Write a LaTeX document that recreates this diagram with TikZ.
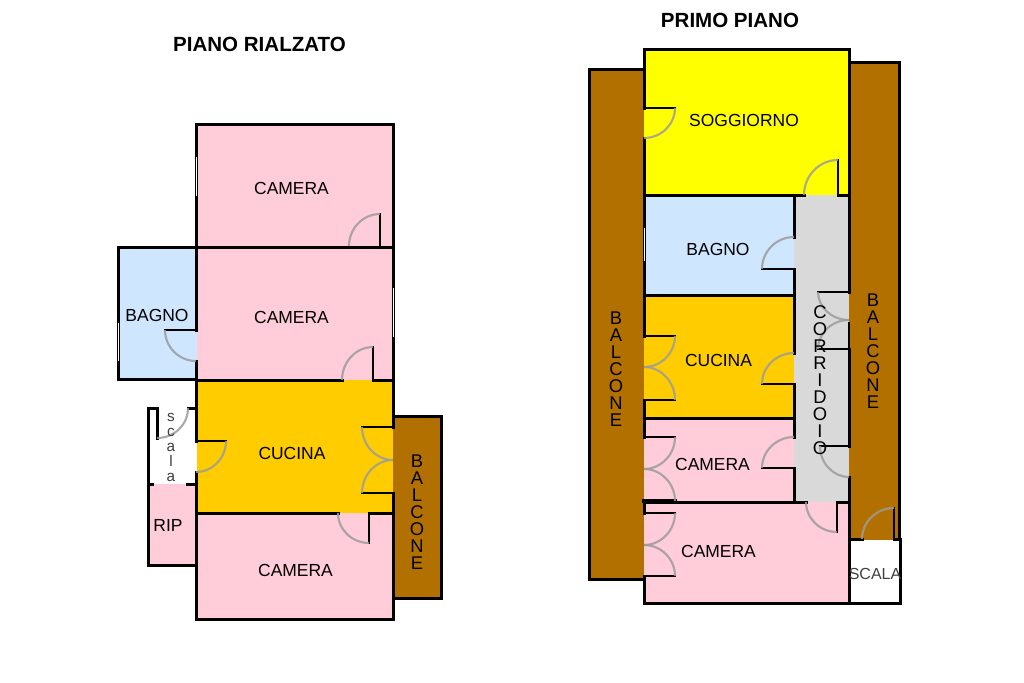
\documentclass[tikz,border=0pt]{standalone}
\usepackage{fontspec}
\setmainfont{Liberation Sans}
\usetikzlibrary{calc}
\definecolor{pinkroom}{HTML}{FFCCD9}
\definecolor{blueroom}{HTML}{CFE6FF}
\definecolor{orangeroom}{HTML}{FFCC00}
\definecolor{yellowroom}{HTML}{FFFF00}
\definecolor{brownroom}{HTML}{B27000}
\definecolor{greyroom}{HTML}{D9D9D9}
\definecolor{doorgrey}{HTML}{9C9C9C}
\newcommand\door[3]{%
  \draw[wall,line width=1.5pt] (#1) -- (#2);
  \draw[doorarc] (#2) .. controls ($(#2)+0.55*(#3)-0.55*(#1)$) and ($(#3)+0.55*(#2)-0.55*(#1)$) .. (#3);}
\tikzset{
  wall/.style={draw=black,line width=2.25pt,line cap=rect},
  thinwall/.style={draw=black,line width=1.2pt},
  doorarc/.style={draw=doorgrey,draw opacity=0.85,line width=1.6pt},
  windowmark/.style={draw=white,line width=0.6pt},
  label/.style={inner sep=0pt,font=\fontsize{13.1pt}{16pt}\selectfont},
  title/.style={inner sep=0pt,font=\fontsize{15.4pt}{18pt}\selectfont\bfseries},
  stack/.style={inner sep=0pt,align=center,font=\fontsize{13.8pt}{12.75pt}\selectfont},
  smallstack/.style={inner sep=0pt,align=center,font=\fontsize{11.5pt}{11.25pt}\selectfont,text=black!75},
}
\begin{document}
\begin{tikzpicture}[x=0.75pt,y=-0.75pt]
\useasboundingbox (0,0) rectangle (1024,682);
\fill[white] (0,0) rectangle (1024,682);
% ---- room fills, left plan
\fill[pinkroom] (196,124) rectangle (393,247);
\fill[pinkroom] (196,247) rectangle (393,380);
\fill[blueroom] (118,247) rectangle (197,379);
\fill[orangeroom] (197,380) rectangle (393,513);
\fill[pinkroom] (196,513) rectangle (393,619);
\fill[pinkroom] (148,484) rectangle (196,565);
\fill[brownroom] (393,416) rectangle (441,598);
% ---- room fills, right plan
\fill[brownroom] (589,69) rectangle (644,579);
\fill[brownroom] (849,62) rectangle (899,540);
\fill[yellowroom] (644,49) rectangle (849,195);
\fill[blueroom] (644,195) rectangle (794,295);
\fill[orangeroom] (644,295) rectangle (794,418);
\fill[pinkroom] (644,418) rectangle (794,502);
\fill[greyroom] (794,195) rectangle (849,502);
\fill[pinkroom] (644,502) rectangle (849,603);
% ---- walls, left plan
\draw[wall] (196,247) -- (196,124) -- (393,124) -- (393,427);
\draw[wall] (393,493) -- (393,619) -- (196,619) -- (196,472);
\draw[wall] (196,441) -- (196,361);
\draw[wall] (196,330) -- (196,247);
\draw[wall] (118,247) -- (393,247);
\draw[wall] (118,247) -- (118,379) -- (196,379);
\draw[wall] (196,380) -- (342,380);
\draw[wall] (373,380) -- (393,380);
\draw[wall] (196,513) -- (338,513);
\draw[wall] (369,513) -- (393,513);
\draw[wall] (393,416) -- (441,416) -- (441,598) -- (393,598);
\draw[wall] (157,438) -- (157,408) -- (148,408) -- (148,565) -- (196,565);
\draw[wall] (188,408) -- (196,408);
\draw[wall] (148,484) -- (152,484);
\draw[wall] (187,484) -- (196,484);
% ---- doors, left plan
\door{380,246}{380,214}{349,246}
\door{373,380}{373,347}{342,380}
\door{196,330}{165,330}{196,361}
\door{196,441}{226,441}{196,472}
\door{393,427}{362,427}{393,460}
\door{393,493}{362,493}{393,460}
\door{369,513}{369,543}{338,513}
\draw[doorarc] (157,438) .. controls (174,438) and (188,425) .. (188,408);
% ---- windows, left plan
\draw[windowmark] (393,288) -- (393,337);
\draw[windowmark] (118,323) -- (118,361);
\draw[windowmark] (196,157) -- (196,196);
% ---- walls, right plan
\draw[wall] (644,108) -- (644,49) -- (849,49) -- (849,292);
\draw[wall] (849,349) -- (849,446);
\draw[thinwall] (849,322) -- (849,349);
\draw[wall] (849,477) -- (849,603) -- (644,603) -- (644,576);
\draw[wall] (644,138) -- (644,336);
\draw[wall] (644,400) -- (644,437);
\draw[wall] (644,501) -- (644,513);
\draw[wall] (644,69) -- (589,69) -- (589,579) -- (644,579);
\draw[wall] (849,62) -- (899,62) -- (899,539);
\draw[wall] (644,195) -- (804,195);
\draw[wall] (838,195) -- (849,195);
\draw[wall] (644,295) -- (794,295);
\draw[wall] (644,418) -- (794,418);
\draw[wall] (644,502) -- (806,502);
\draw[wall] (837,502) -- (849,502);
\draw[wall,line width=3pt] (644,501) -- (675,501);
\draw[wall] (794,195) -- (794,237);
\draw[wall] (794,269) -- (794,353);
\draw[wall] (794,384) -- (794,437);
\draw[wall] (794,468) -- (794,502);
\draw[wall] (849,539) -- (862,539);
\draw[wall] (894,539) -- (900,539) -- (900,603) -- (849,603);
% ---- doors, right plan
\door{644,108}{675,108}{644,138}
\door{838,195}{838,160}{804,195}
\door{794,269}{762,269}{794,237}
\door{849,292}{818,292}{849,320}
\door{849,349}{818,349}{849,320}
\door{644,336}{675,336}{644,367}
\door{644,400}{675,400}{644,367}
\door{794,384}{762,384}{794,353}
\door{644,437}{675,437}{644,469}
\door{644,501}{675,501}{644,469}
\door{794,468}{762,468}{794,437}
\door{849,446}{820,446}{849,477}
\door{837,502}{837,532}{806,502}
\door{644,513}{675,513}{644,545}
\door{644,576}{675,576}{644,545}
\door{894,539}{894,508}{862,539}
% ---- windows, right plan
\draw[windowmark] (644,228) -- (644,261);
% ---- text
\node[title] (t1) at (259.5,44) {PIANO RIALZATO};
\node[title] (t2) at (730,20) {PRIMO PIANO};
\node[label] (l1) at (291.5,188.5) {CAMERA};
\node[label] (l2) at (291.5,317.5) {CAMERA};
\node[label] (l3) at (157,315.5) {BAGNO};
\node[label] (l4) at (292,453.5) {CUCINA};
\node[label] (l5) at (295.5,570.5) {CAMERA};
\node[label] (l6) at (168,525) {RIP};
\node[stack] (l7) at (417,512) {B\\A\\L\\C\\O\\N\\E};
\node[smallstack] (l8) at (171,447) {s\\c\\a\\l\\a};
\node[label] (r1) at (744,120.5) {SOGGIORNO};
\node[label] (r2) at (718,249.5) {BAGNO};
\node[label] (r3) at (718.5,360.5) {CUCINA};
\node[label] (r4) at (712.5,464.5) {CAMERA};
\node[label] (r5) at (718.5,551.5) {CAMERA};
\node[stack] (r6) at (616,369) {B\\A\\L\\C\\O\\N\\E};
\node[stack] (r7) at (873,351) {B\\A\\L\\C\\O\\N\\E};
\node[stack] (r8) at (820,380) {C\\O\\R\\R\\I\\D\\O\\I\\O};
\node[inner sep=0pt,font=\fontsize{12pt}{14pt}\selectfont,text=black!75] (r9) at (875,574) {SCALA};
\end{tikzpicture}
\end{document}
